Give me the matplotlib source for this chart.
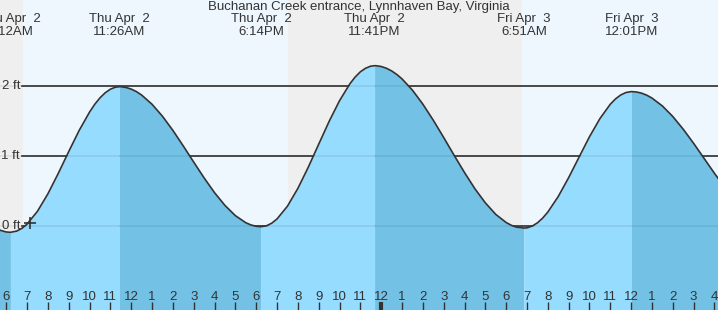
import matplotlib
matplotlib.use("Agg")
import matplotlib.pyplot as plt
import matplotlib.transforms as mtransforms

plt.rcParams["font.family"] = ["Liberation Sans", "DejaVu Sans"]

# tide heights (ft), hours counted from Thu Apr 2 00:00
curve_hours = [5.5, 5.75, 6.0, 6.2, 6.5, 6.75, 7.0, 7.5, 8.0, 8.5, 9.0, 9.5, 10.0,
               10.25, 10.5, 10.75, 11.0, 11.25, 11.433, 11.5, 11.75, 12.0, 12.25,
               12.5, 13.0, 13.5, 14.0, 14.5, 15.0, 15.5, 16.0, 16.5, 17.0, 17.5,
               17.75, 18.0, 18.233, 18.5, 18.75, 19.0, 19.5, 20.0, 20.5, 21.0, 21.5,
               22.0, 22.5, 22.75, 23.0, 23.25, 23.5, 23.683, 23.75, 24.0, 24.25,
               24.5, 24.75, 25.0, 25.5, 26.0, 26.5, 27.0, 27.5, 28.0, 28.5, 29.0,
               29.5, 30.0, 30.25, 30.5, 30.75, 30.85, 31.0, 31.25, 31.5, 31.75,
               32.0, 32.5, 33.0, 33.5, 34.0, 34.5, 35.0, 35.25, 35.5, 35.75, 36.0,
               36.017, 36.25, 36.5, 36.75, 37.0, 37.5, 38.0, 38.5, 39.0, 39.5,
               40.0, 40.5]
curve_ft = [-0.03, -0.065, -0.085, -0.09, -0.073, -0.034, 0.028, 0.211, 0.46, 0.753,
            1.064, 1.365, 1.628, 1.739, 1.831, 1.903, 1.955, 1.984, 1.99, 1.99,
            1.979, 1.956, 1.92, 1.871, 1.739, 1.568, 1.366, 1.143, 0.913, 0.687,
            0.476, 0.294, 0.148, 0.047, 0.015, -0.004, -0.01, 0.004, 0.041, 0.101,
            0.283, 0.537, 0.84, 1.168, 1.494, 1.79, 2.033, 2.128, 2.203, 2.254,
            2.284, 2.29, 2.29, 2.279, 2.254, 2.216, 2.165, 2.102, 1.941, 1.741,
            1.512, 1.265, 1.011, 0.764, 0.532, 0.331, 0.166, 0.05, 0.01, -0.017,
            -0.024, -0.03, -0.026, -0.001, 0.045, 0.112, 0.199, 0.421, 0.691, 0.984,
            1.275, 1.534, 1.74, 1.816, 1.872, 1.907, 1.92, 1.92, 1.915, 1.898,
            1.869, 1.828, 1.715, 1.564, 1.383, 1.181, 0.967, 0.753, 0.55]

# high / low tides
extreme_hours = [6.2, 11.433, 18.233, 23.683, 30.85, 36.017]
extreme_day = ["Thu Apr  2", "Thu Apr  2", "Thu Apr  2", "Thu Apr  2", "Fri Apr  3", "Fri Apr  3"]
extreme_clock = ["6:12AM", "11:26AM", "6:14PM", "11:41PM", "6:51AM", "12:01PM"]

# daylight periods (sunrise, sunset)
daylight = [(6.80, 19.49), (30.76, 45.0)]

now_hour = 7.14
now_ft = 0.05

grid_ft = [0, 1, 2]
title = "Buchanan Creek entrance, Lynnhaven Bay, Virginia"

x_min, x_max = 5.70, 40.17
y_min, y_max = -1.2, 3.229

fig = plt.figure(figsize=(7.18, 3.10), dpi=100)
ax = fig.add_axes([0, 0, 1, 1])
ax.set_xlim(x_min, x_max)
ax.set_ylim(y_min, y_max)
ax.axis("off")

ax.axvspan(x_min, x_max, color="#efefef", zorder=0)
for rise, sset in daylight:
    ax.axvspan(rise, sset, color="#eef7fe", zorder=0.5)

# grid lines start right of the labels
for g in grid_ft:
    ax.axhline(g, xmin=22 / 718, color="#333333", lw=1.2, zorder=1)

# fill: light while rising, darker while falling
edges = [x_min - 1] + extreme_hours + [x_max + 1]
for i in range(len(edges) - 1):
    a, b = edges[i], edges[i + 1]
    xs = [h for h in curve_hours if a <= h <= b]
    ys = [curve_ft[curve_hours.index(h)] for h in xs]
    rising = ys[-1] > ys[0]
    ax.fill_between(xs, y_min, ys, color="#96dcff" if rising else "#73c2e6",
                    lw=0, zorder=2)

for g in grid_ft:
    ax.axhline(g, color="#000000", alpha=0.08, lw=1.2, zorder=3)

ax.plot(curve_hours, curve_ft, color="#333333", lw=1.2, zorder=4)
ax.plot(now_hour, now_ft, marker="+", ms=9, mew=1.2, color="#333333", zorder=5)

# y labels
ytrans = mtransforms.blended_transform_factory(ax.transAxes, ax.transData)
for g in grid_ft:
    ax.text(20 / 718, g, "%d ft" % g, ha="right", va="center", fontsize=9.5,
            color="#333333", transform=ytrans, zorder=6)

# hour ticks along the bottom
xtrans = mtransforms.blended_transform_factory(ax.transData, ax.transAxes)
for h in range(6, 41):
    lab = str((h - 1) % 12 + 1)
    ax.text(h, 1 - 297 / 310, lab, ha="center", va="center", fontsize=9.5,
            color="#333333", transform=xtrans, zorder=6)
    ax.plot([h, h], [0, 8 / 310], color="#333333", lw=3 if h % 24 == 0 else 1,
            transform=xtrans, zorder=6, solid_capstyle="butt")

# high / low labels at the top
for h, d, c in zip(extreme_hours, extreme_day, extreme_clock):
    ax.text(h, 1 - 19 / 310, d, ha="center", va="center", fontsize=9.5,
            color="#333333", transform=xtrans, zorder=6)
    ax.text(h, 1 - 32 / 310, c, ha="center", va="center", fontsize=9.5,
            color="#333333", transform=xtrans, zorder=6)

ax.text(0.5, 1 - 7 / 310, title, ha="center", va="center", fontsize=9.5,
        color="#333333", transform=ax.transAxes, zorder=7)

fig.savefig("out.png", dpi=100)
